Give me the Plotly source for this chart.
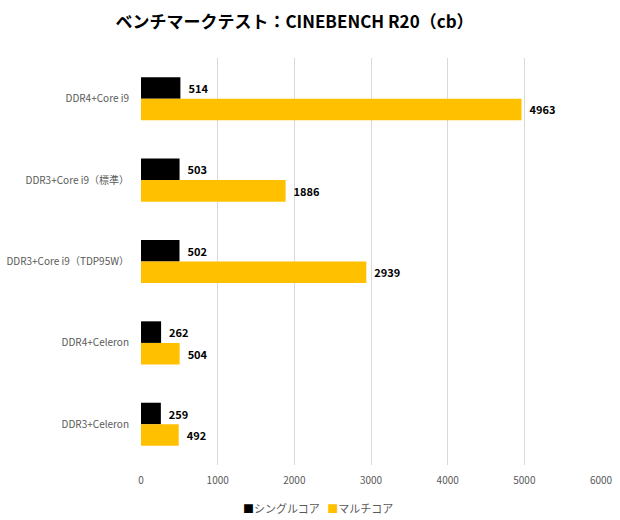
import plotly.graph_objects as go

categories = ["DDR4+Core i9", "DDR3+Core i9（標準）", "DDR3+Core i9（TDP95W）", "DDR4+Celeron", "DDR3+Celeron"]
single_core = [514, 503, 502, 262, 259]
multi_core = [4963, 1886, 2939, 504, 492]
x_ticks = [0, 1000, 2000, 3000, 4000, 5000, 6000]
series_names = ["シングルコア", "マルチコア"]
series_colors = ["#000000", "#FFC000"]

FONT = "Noto Sans CJK JP, Noto Sans, sans-serif"

fig = go.Figure()
for name, vals, col in [(series_names[0], single_core, series_colors[0]),
                        (series_names[1], multi_core, series_colors[1])]:
    fig.add_trace(go.Bar(
        y=categories, x=vals, orientation="h", name=name,
        marker=dict(color=col, line=dict(width=0)),
        text=["  " + str(v) for v in vals], textposition="outside",
        textfont=dict(family=FONT, size=11, color="#000000", weight="bold"),
        cliponaxis=False, showlegend=False,
    ))

legend_text = "   ".join(
    f"<span style='color:{c}'>■</span>{n}" for n, c in zip(series_names, series_colors)
)
fig.add_annotation(
    text=legend_text, xref="paper", yref="paper", x=0.385, y=-0.106,
    xanchor="center", yanchor="middle", showarrow=False,
    font=dict(family=FONT, size=11, color="#595959"),
)

fig.update_layout(
    width=620, height=520,
    margin=dict(l=141, r=19, t=58, b=55),
    paper_bgcolor="white", plot_bgcolor="white",
    barmode="group", bargap=0.47, bargroupgap=0,
    font=dict(family=FONT, color="#595959"),
    title=dict(
        text="<b>ベンチマークテスト：CINEBENCH R20（cb）</b>",
        x=0.475, xanchor="center", y=0.958, yanchor="middle",
        font=dict(family=FONT, size=17, color="#000000"),
    ),
    xaxis=dict(
        range=[0, 6000], tickvals=x_ticks, ticktext=[str(v) for v in x_ticks],
        showgrid=True, gridcolor="#D9D9D9", gridwidth=1,
        zeroline=False, showline=False, automargin=False,
        tickfont=dict(family=FONT, size=10, color="#595959"),
        ticks="", ticklabelstandoff=8,
    ),
    yaxis=dict(
        autorange="reversed", showgrid=False, zeroline=False, showline=False,
        automargin=False,
        tickfont=dict(family=FONT, size=10, color="#595959"),
        ticks="", ticklabelstandoff=11,
    ),
    showlegend=False,
)

fig.write_html("out.html")
